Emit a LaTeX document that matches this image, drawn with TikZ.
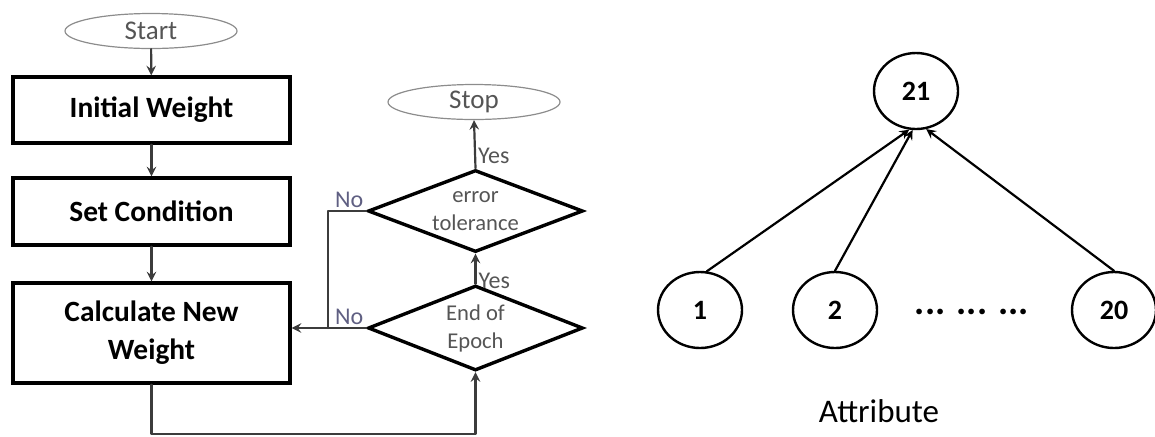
\documentclass[tikz,border=0pt]{standalone}
\usepackage{fontspec}
\setmainfont{Carlito}
\usetikzlibrary{shapes.geometric}
\definecolor{termgray}{RGB}{140,140,140}
\definecolor{txtgray}{RGB}{85,85,85}
\definecolor{linegray}{RGB}{60,60,60}
\definecolor{noblue}{RGB}{95,95,130}
\begin{document}
\begin{tikzpicture}[x=0.5pt,y=-0.5pt,line join=round,line cap=round,>=stealth,
 box/.style={draw,line width=1.7pt,line join=miter,minimum width=138.5pt,inner sep=0pt,align=center,font=\fontsize{14.7}{19}\selectfont\bfseries},
 term/.style={draw=termgray,ellipse,line width=0.6pt,minimum width=86pt,minimum height=17.5pt,inner sep=0pt,text=txtgray,font=\fontsize{13.5}{16}\selectfont},
 dec/.style={draw,diamond,aspect=3,line width=1.7pt,line join=miter,minimum width=107.5pt,inner sep=0pt,align=center,text=txtgray,font=\fontsize{11.3}{14}\selectfont},
 flow/.style={draw=linegray,line width=1.1pt},
 yes/.style={inner sep=1pt,text=txtgray,font=\fontsize{12}{14}\selectfont},
 no/.style={inner sep=1pt,text=noblue,font=\fontsize{12}{14}\selectfont},
 att/.style={draw,ellipse,line width=1.2pt,minimum width=42pt,minimum height=38pt,inner sep=0pt,font=\fontsize{14}{16}\selectfont\bfseries}]
 \useasboundingbox (0,0) rectangle (1155,436);
 % flowchart
 \node[term] (start) at (151,31) {Start};
 \node[box,minimum height=33pt] (init) at (151.5,110) {Initial Weight};
 \node[box,minimum height=33.5pt] (cond) at (151.5,211.5) {Set Condition};
 \node[box,minimum height=50pt] (calc) at (151.5,333) {Calculate New\\Weight};
 \node[dec,minimum height=42.5pt] (epoch) at (475.5,328) {End of\\Epoch};
 \node[dec,minimum height=41pt] (tol) at (475.5,211) {error\\tolerance};
 \node[term] (stop) at (474,102) {Stop};
 \coordinate (bot) at (300,434);
 \coordinate (join) at (328,328);
 \draw[flow,->] (start) -- (init);
 \draw[flow,->] (init) -- (cond);
 \draw[flow,->] (cond) -- (calc);
 \draw[flow,->] (calc.south) -- (calc.south |- bot) -| (epoch.south);
 \draw[flow,->] (epoch.north) -- node[yes,right,pos=0.1] {Yes} (tol.south);
 \draw[flow,->] (tol.north) -- node[yes,right,pos=0.25] {Yes} (stop.south);
 \draw[flow,->] (epoch.west) node[no,above left] {No} -- (calc.east |- epoch.west);
 \draw[flow] (tol.west) node[no,above left] {No} -| (join);
 % attribute tree
 \node[att] (c21) at (916,91) {21};
 \foreach \n/\x in {1/700,2/835,20/1114}
 \node[att] (c\n) at (\x,310) {\n};
 \node[font=\fontsize{19}{20}\selectfont\bfseries] (dots) at (972,312) {... ... ...};
 \node[font=\fontsize{16.5}{18}\selectfont] (attr) at (879,411) {Attribute};
 \draw[->,line width=1.1pt] (c1.80) -- (c21.-100);
 \draw[->,line width=1.1pt] (c2.north) -- (c21.-95);
 \draw[->,line width=1.1pt] (c20.north) -- (c21.-75);
\end{tikzpicture}
\end{document}
